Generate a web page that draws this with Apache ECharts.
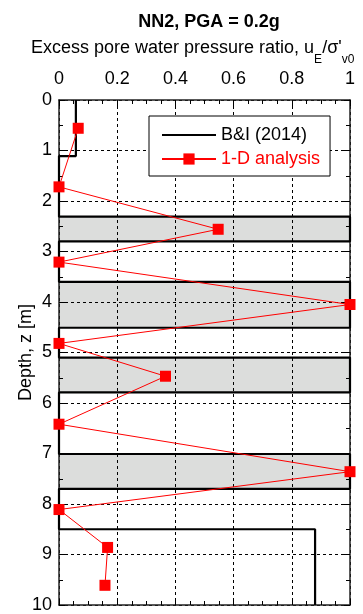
<!DOCTYPE html>
<html>
<head>
<meta charset="utf-8">
<script src="https://cdn.jsdelivr.net/npm/echarts@6/dist/echarts.min.js"></script>
<style>html,body{margin:0;padding:0;background:#fff}#c{width:363px;height:614px}</style>
</head>
<body>
<div id="c"></div>
<script>
// ---- data ----
const xTickLabels = ['0', '0.2', '0.4', '0.6', '0.8', '1'];
const depthTickLabels = ['0','1','2','3','4','5','6','7','8','9','10'];

// B&I (2014) step profile: ratio vs depth
const biRatio = [0.058, 0.058, 0, 0, 1, 1, 0, 0, 1, 1, 0, 0, 1, 1, 0, 0, 1, 1, 0, 0, 0.88, 0.88];
const biDepth = [0, 1.11, 1.11, 2.31, 2.31, 2.80, 2.80, 3.60, 3.60, 4.51, 4.51, 5.10, 5.10, 5.79, 5.79, 7.01, 7.01, 7.70, 7.70, 8.50, 8.50, 10];

// liquefied (shaded) layers
const layerTop = [2.31, 3.60, 5.10, 7.01];
const layerBottom = [2.80, 4.51, 5.79, 7.70];

// 1-D analysis
const analysisRatio = [0.066, 0, 0.547, 0, 1, 0, 0.366, 0, 1, 0, 0.167, 0.158];
const analysisDepth = [0.56, 1.72, 2.56, 3.21, 4.05, 4.82, 5.47, 6.42, 7.36, 8.11, 8.86, 9.61];

// ---- chart ----
const FONT = 'Liberation Sans, Arial, sans-serif';
const chart = echarts.init(document.getElementById('c'));

const gridLine = {show: true, lineStyle: {color: '#000', type: [3, 3], width: 1}};
const frameLine = {show: true, onZero: false, lineStyle: {color: '#222', width: 1.5}};

const option = {
  animation: false,
  textStyle: {fontFamily: FONT},
  title: [
    {text: 'NN2, PGA = 0.2g', left: 204, textAlign: 'center', top: 8,
     textStyle: {fontSize: 18, fontWeight: 'bold', color: '#000', fontFamily: FONT}},
    {text: "Excess pore water pressure ratio, u{s|E}/σ'{s|v0}", left: 26, top: 34,
     textStyle: {fontSize: 18, fontWeight: 'normal', color: '#000', fontFamily: FONT,
       rich: {s: {fontSize: 12, lineHeight: 12, padding: [24, 0, 0, 0], color: '#000', fontFamily: FONT}}}}
  ],
  grid: {left: 59, top: 100, width: 291, height: 505, containLabel: false, outerBoundsMode: 'none'},
  legend: {
    orient: 'vertical', left: 149, top: 116,
    backgroundColor: '#fff', borderColor: '#000', borderWidth: 1,
    padding: [10, 10, 8, 12], itemWidth: 54, itemHeight: 14, itemGap: 6,
    textStyle: {fontSize: 18, fontFamily: FONT},
    data: [
      {name: 'B&I (2014)', textStyle: {color: '#000'}, itemStyle: {opacity: 0}},
      {name: '1-D analysis', textStyle: {color: '#ff0000'}}
    ]
  },
  xAxis: [
    {type: 'value', position: 'top', min: 0, max: 1, interval: 0.2, z: 1.5,
     axisLine: frameLine,
     axisTick: {show: true, inside: true, length: 6, lineStyle: {color: '#000'}},
     minorTick: {show: true, splitNumber: 4, length: 4, lineStyle: {color: '#000'}},
     splitLine: gridLine,
     axisLabel: {fontSize: 18, color: '#000', margin: 12, fontFamily: FONT,
       formatter: (v) => xTickLabels[Math.round(v / 0.2)]}},
    {type: 'value', position: 'bottom', min: 0, max: 1, interval: 0.2, z: 1.5,
     axisLine: frameLine,
     axisTick: {show: true, inside: true, length: 6, lineStyle: {color: '#000'}},
     minorTick: {show: true, splitNumber: 4, length: 4, lineStyle: {color: '#000'}},
     splitLine: {show: false}, axisLabel: {show: false}}
  ],
  yAxis: [
    {type: 'value', inverse: true, min: 0, max: 10, interval: 1, z: 1.5,
     name: 'Depth, z [m]', nameLocation: 'middle', nameGap: 24, nameRotate: 90, nameMoveOverlap: false,
     nameTextStyle: {fontSize: 18, color: '#000', fontFamily: FONT},
     axisLine: frameLine,
     axisTick: {show: true, inside: true, length: 6, lineStyle: {color: '#000'}},
     minorTick: {show: true, splitNumber: 2, length: 4, lineStyle: {color: '#000'}},
     splitLine: gridLine,
     axisLabel: {fontSize: 18, color: '#000', margin: 7, fontFamily: FONT,
       formatter: (v) => depthTickLabels[Math.round(v)]}},
    {type: 'value', inverse: true, min: 0, max: 10, interval: 1, position: 'right', z: 1.5,
     axisLine: frameLine,
     axisTick: {show: true, inside: true, length: 6, lineStyle: {color: '#000'}},
     minorTick: {show: true, splitNumber: 2, length: 4, lineStyle: {color: '#000'}},
     splitLine: {show: false}, axisLabel: {show: false}}
  ],
  series: [
    {name: 'layers', type: 'scatter', data: [], z: 1, silent: true,
     markArea: {silent: true, itemStyle: {color: '#dcdddc'},
       data: layerTop.map((t, i) => [{yAxis: t, xAxis: 0}, {yAxis: layerBottom[i], xAxis: 1}])}},
    {name: 'B&I (2014)', type: 'line', z: 3, clip: false, symbol: 'none',
     color: '#000', lineStyle: {color: '#000', width: 2.2},
     data: biRatio.map((x, i) => [x, biDepth[i]])},
    {name: '1-D analysis', type: 'line', z: 4, clip: false, symbol: 'rect', symbolSize: 11,
     color: '#ff0000', itemStyle: {color: '#ff0000'}, lineStyle: {color: '#ff0000', width: 1},
     data: analysisRatio.map((x, i) => [x, analysisDepth[i]])}
  ]
};
chart.setOption(option);
</script>
</body>
</html>
